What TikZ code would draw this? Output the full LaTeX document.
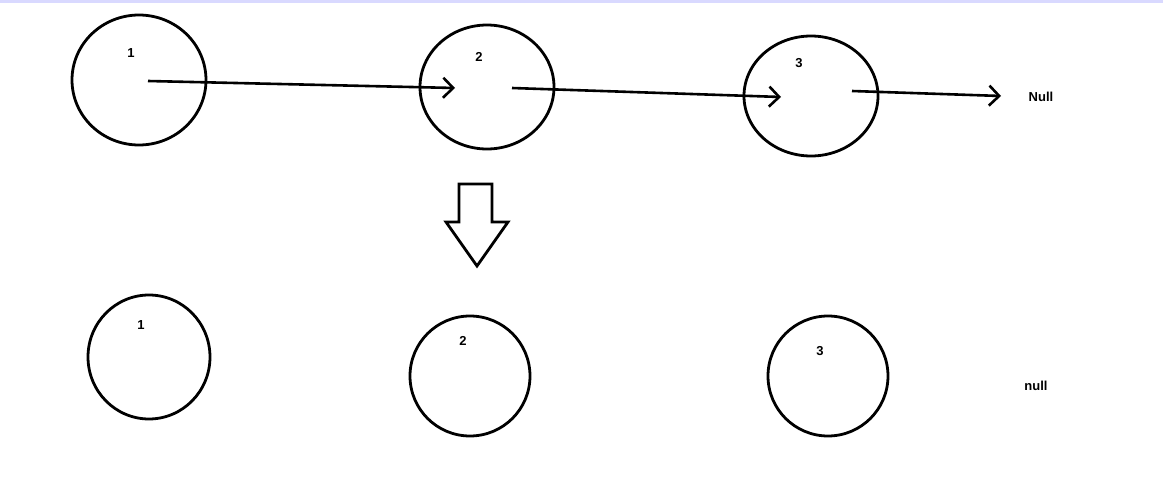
\documentclass[tikz,border=0pt]{standalone}
\usepackage{fontspec}
\setmainfont{Liberation Sans}
\usetikzlibrary{shapes.geometric,arrows.meta}
\begin{document}
\begin{tikzpicture}[x=1pt,y=-1pt,
  circ/.style={draw,ellipse,line width=2.8pt,inner sep=0pt},
  lbl/.style={font=\bfseries\fontsize{13}{15}\selectfont,inner sep=0pt},
  arr/.style={line width=2.6pt,-{Straight Barb[length=10pt,width=20pt,line width=2.6pt]}}]
\useasboundingbox (0,0) rectangle (1163,490);
\fill[blue!15] (0,0) rectangle (1163,3);
\node[circ,minimum width=134pt,minimum height=130pt] (t1) at (139,80) {};
\node[circ,minimum width=134pt,minimum height=124pt] (t2) at (487,87) {};
\node[circ,minimum width=134pt,minimum height=120pt] (t3) at (811,96) {};
\node[circ,minimum width=122pt,minimum height=124pt] (b1) at (149,357) {};
\node[circ,minimum width=120pt,minimum height=120pt] (b2) at (470,376) {};
\node[circ,minimum width=120pt,minimum height=120pt] (b3) at (828,376) {};
\node[lbl] (l1) at (131,53) {1};
\node[lbl] (l2) at (479,57) {2};
\node[lbl] (l3) at (799,63) {3};
\node[lbl] (nl) at (1041,97) {Null};
\node[lbl] (m1) at (141,325) {1};
\node[lbl] (m2) at (463,341) {2};
\node[lbl] (m3) at (820,351) {3};
\node[lbl] (nn) at (1036,386) {null};
\coordinate (a1) at (148,81); \coordinate (a2) at (455,88);
\coordinate (a3) at (512,88); \coordinate (a4) at (781,97);
\coordinate (a5) at (852,91); \coordinate (a6) at (1001,96);
\draw[arr] (a1) -- (a2);
\draw[arr] (a3) -- (a4);
\draw[arr] (a5) -- (a6);
\draw[line width=2.8pt,line join=miter] (459,184) -- (492,184) -- (492,222) -- (508,222) -- (477,266) -- (446,222) -- (459,222) -- cycle;
\end{tikzpicture}
\end{document}
